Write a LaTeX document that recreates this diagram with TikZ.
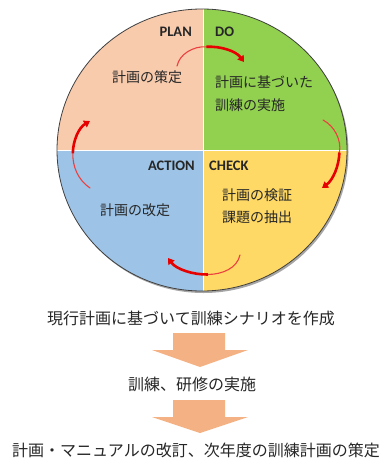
\documentclass[tikz,border=0pt]{standalone}
\usepackage{fontspec}
\setmainfont{Carlito}
\newfontfamily\jpfont{Noto Sans CJK JP}
\usepackage{xcolor}
\definecolor{planpeach}{RGB}{248,203,173}
\definecolor{dogreen}{RGB}{146,208,80}
\definecolor{checkyellow}{RGB}{255,217,102}
\definecolor{actblue}{RGB}{157,195,230}
\definecolor{flowpeach}{RGB}{244,177,131}
\definecolor{txtdark}{RGB}{38,38,38}
\definecolor{cycred}{RGB}{230,0,0}
\usetikzlibrary{arrows.meta,positioning,calc}

\begin{document}
\begin{tikzpicture}[
  x=1pt,y=-1pt,
  every node/.style={text=txtdark,inner sep=0pt},
  phase/.style={font=\bfseries\fontsize{14.5}{16}\selectfont},
  intext/.style={font=\jpfont\fontsize{14}{16}\selectfont,align=left},
  steptext/.style={font=\jpfont\fontsize{16}{18}\selectfont},
  cycthin/.style={draw=cycred!75,line width=1.1pt,line cap=round},
  cyc/.style={draw=cycred,line width=2.6pt,-{Triangle[length=6pt,width=7.5pt]}},
  blockarr/.style={fill=flowpeach,draw=none},
]
  \useasboundingbox (0,0) rectangle (382,460);

  % PDCA circle
  \fill[gray!70] (203.5,152) ellipse [x radius=145, y radius=141];
  \begin{scope}
    \clip (202,150) ellipse [x radius=145, y radius=141];
    \fill[planpeach]   (50,0)    rectangle (203,150);
    \fill[dogreen]     (203,0)   rectangle (360,150);
    \fill[checkyellow] (203,150) rectangle (360,300);
    \fill[actblue]     (50,150)  rectangle (203,300);
    \draw[white,line width=1pt] (203,0) -- (203,300);
    \draw[white,line width=1pt] (50,150) -- (360,150);
  \end{scope}
  \draw[gray!50!black,line width=0.8pt] (202,150) ellipse [x radius=145, y radius=141];

  % Phase labels
  \node[phase,anchor=east] (plan) at (192,32) {PLAN};
  \node[phase,anchor=west] (do) at (215,32) {DO};
  \node[phase,anchor=east] (act) at (195,166) {ACTION};
  \node[phase,anchor=west] (chk) at (209,166) {CHECK};

  % Quadrant texts
  \node[intext] (plantxt) at (147,77) {計画の策定};
  \node[intext,anchor=west] (dotxt) at (215,94) {計画に基づいた\\[7pt]訓練の実施};
  \node[intext] (acttxt) at (135,210) {計画の改定};
  \node[intext,anchor=west] (chktxt) at (222,206) {計画の検証\\[6pt]課題の抽出};

  % Cycle arrows (thin start, thick end)
  \coordinate (c1) at (177,66);  \coordinate (m1) at (206.4,46.8);  \coordinate (c2) at (244,62);
  \coordinate (c3) at (323,120); \coordinate (m2) at (339.4,152.5); \coordinate (c4) at (322,188);
  \coordinate (c5) at (240,255); \coordinate (m3) at (207.8,274.5); \coordinate (c6) at (168,258);
  \coordinate (c7) at (90,188);  \coordinate (m4) at (72.8,153.4);  \coordinate (c8) at (90,121);
  \draw[cycthin] (c1) .. controls (179.5,54) and (193.3,46) .. (m1);
  \draw[cyc] (m1) .. controls (220.5,46) and (236,51) .. (c2);
  \draw[cycthin] (c3) .. controls (334.5,126) and (341.8,140.5) .. (m2);
  \draw[cyc] (m2) .. controls (339,166) and (333,180) .. (c4);
  \draw[cycthin] (c5) .. controls (237,268) and (223,274.3) .. (m3);
  \draw[cyc] (m3) .. controls (192.5,274.8) and (176,269) .. (c6);
  \draw[cycthin] (c7) .. controls (78,180) and (72.5,166.5) .. (m4);
  \draw[cyc] (m4) .. controls (73,140.3) and (79,127.5) .. (c8);

  % Flow below
  \node[steptext] (s1) at (191,318) {現行計画に基づいて訓練シナリオを作成};
  \node[steptext] (s2) at (192,384) {訓練、研修の実施};
  \node[steptext] (s3) at (196,450) {計画・マニュアルの改訂、次年度の訓練計画の策定};

  \fill[blockarr] (173,333) -- (225,333) -- (225,350) -- (248,350)
    -- (200,367) -- (152,350) -- (173,350) -- cycle;
  \fill[blockarr] (173,400) -- (225,400) -- (225,417) -- (248,417)
    -- (200,433) -- (152,417) -- (173,417) -- cycle;
\end{tikzpicture}
\end{document}
